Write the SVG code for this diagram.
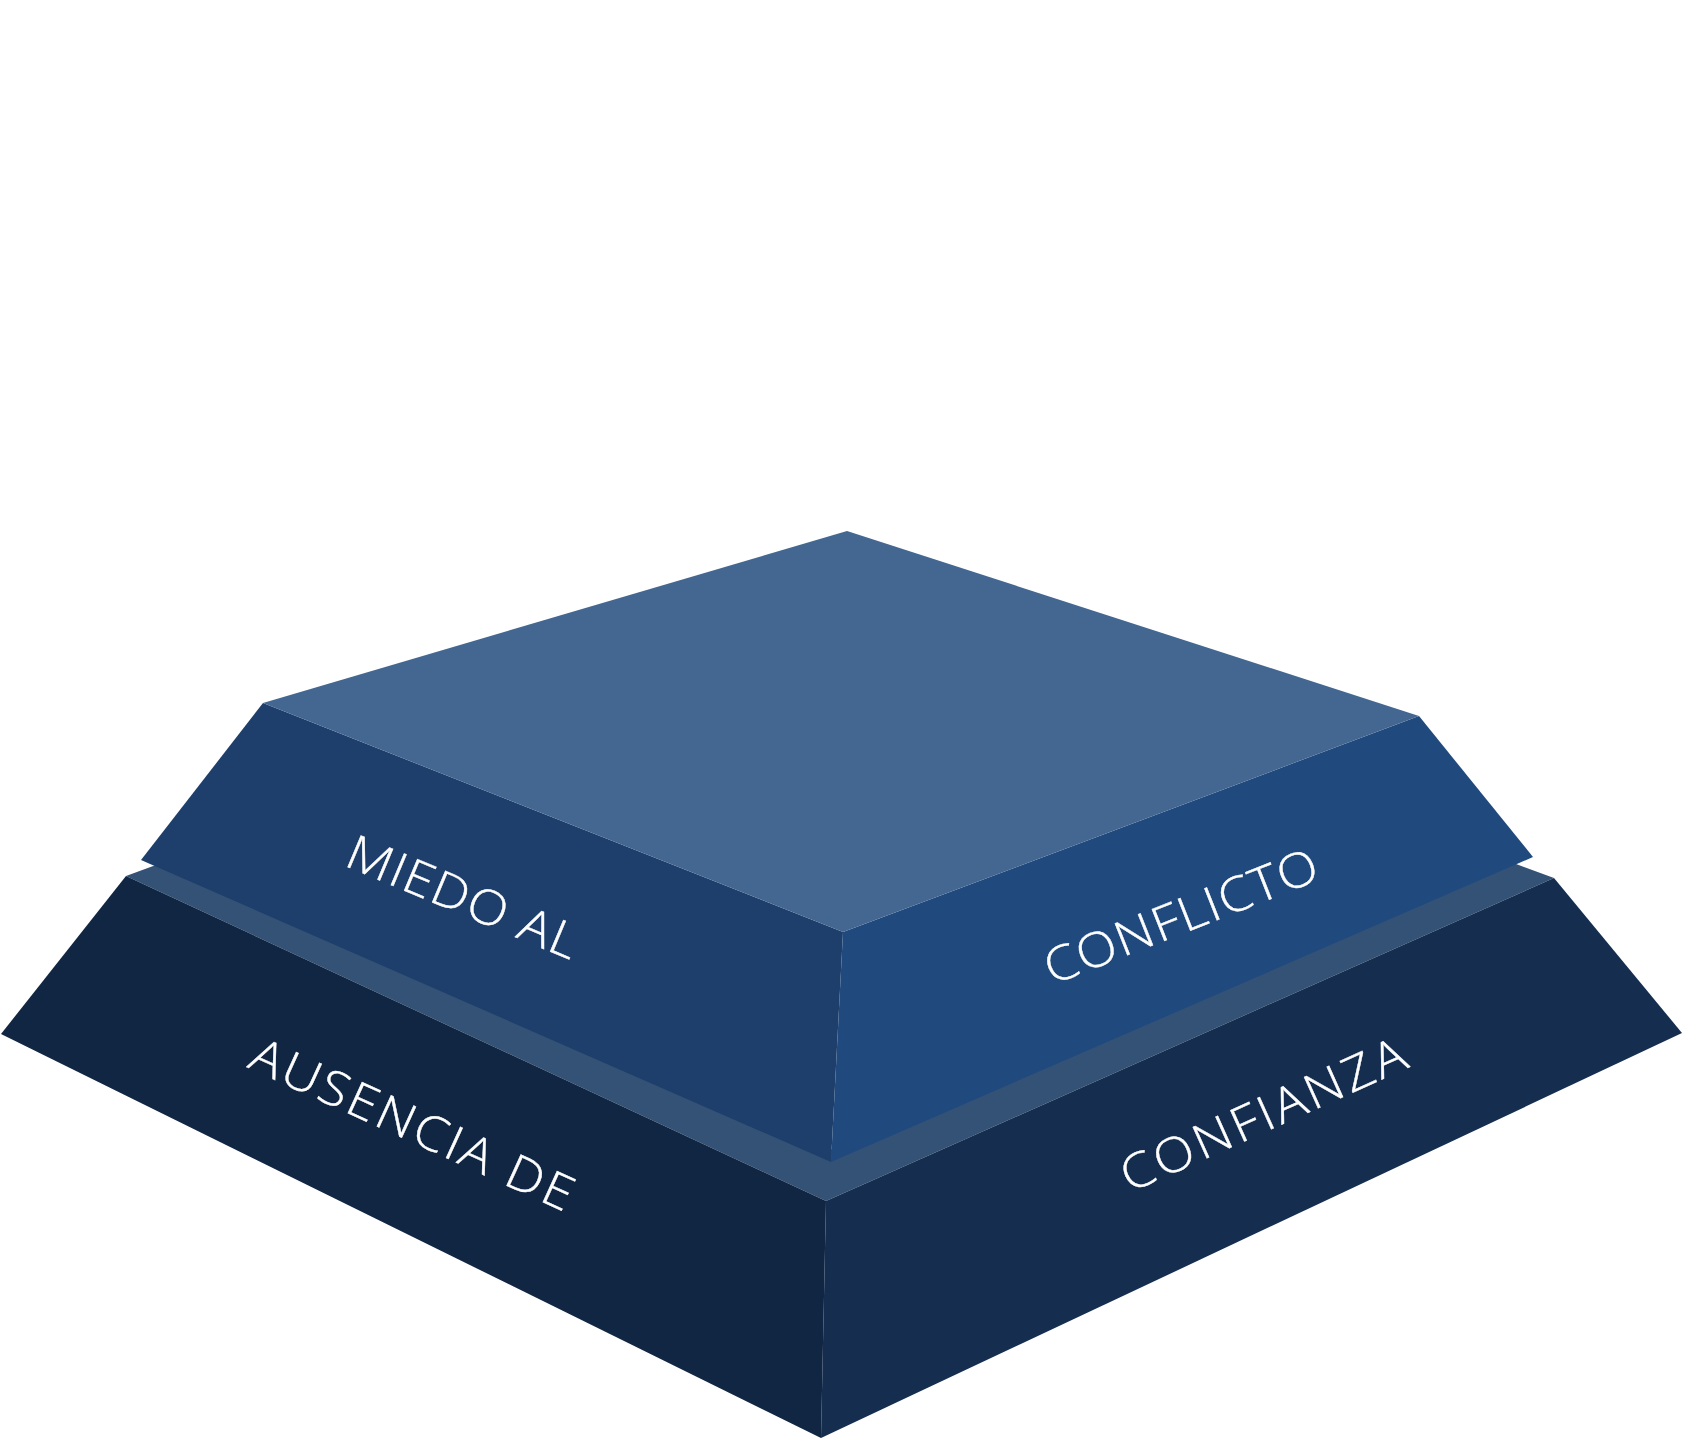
<svg xmlns="http://www.w3.org/2000/svg" width="1683" height="1440" viewBox="0 0 1683 1440">
<style>
.lbl{font-family:"Open Sans","Lato","Liberation Sans",sans-serif;font-weight:300;font-size:48px;fill:#ffffff;stroke:#ffffff;stroke-width:0.4;text-anchor:middle}
</style>
<rect width="1683" height="1440" fill="#ffffff"/>
<g id="tier-bottom">
<polygon points="126,876 175,858 830,1150 1500,858 1554,878 826,1201" fill="#345276"/>
<polygon points="126,876 1,1034 821,1438 826,1201" fill="#112643"/>
<polygon points="826,1201 1554,878 1682,1033 821,1438" fill="#152e50"/>
<text class="lbl" transform="translate(405.5,1139.5) rotate(24.5) scale(1.1,1)" textLength="318" lengthAdjust="spacing">AUSENCIA DE</text>
<text class="lbl" transform="translate(1270,1130) rotate(-24.2) scale(1.1,1)" textLength="280" lengthAdjust="spacing">CONFIANZA</text>
</g>
<g id="tier-top">
<polygon points="263,703 141,860 831,1162 843,932" fill="#1e3f6b"/>
<polygon points="843,932 1419,716 1533,857 831,1162" fill="#204a7e"/>
<polygon points="847,531 1419,716 843,932 263,703" fill="#436791"/>
<text class="lbl" transform="translate(456.5,912.5) rotate(22.7) scale(1.1,1)" textLength="224" lengthAdjust="spacing">MIEDO AL</text>
<text class="lbl" transform="translate(1187,932) rotate(-21.5) scale(1.1,1)" textLength="264" lengthAdjust="spacing">CONFLICTO</text>
</g>
<g id="connectors"/>
</svg>
